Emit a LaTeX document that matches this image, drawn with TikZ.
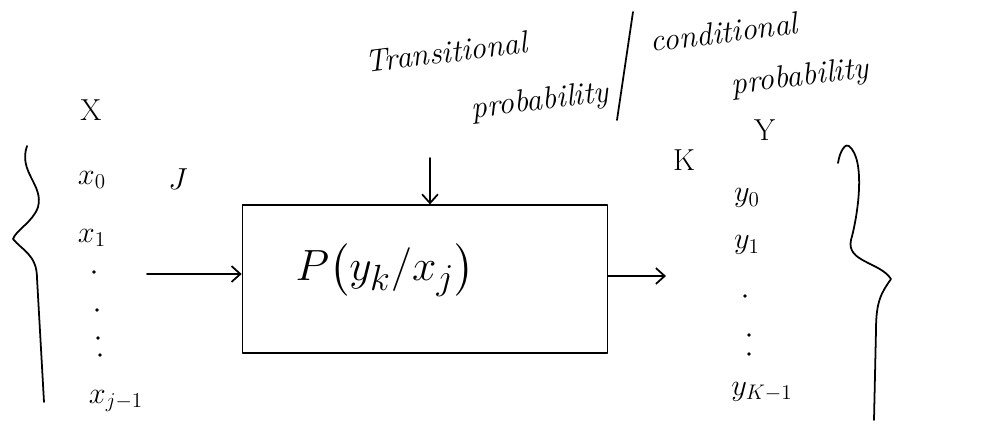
\documentclass[tikz,border=0pt]{standalone}
\usepackage{amsmath}
\usetikzlibrary{arrows.meta}
\begin{document}
\begin{tikzpicture}[x=0.02cm,y=-0.02cm,
  ink/.style={line width=1pt,line cap=round,line join=round},
  arr/.style={ink,-{Straight Barb[length=5pt,width=9pt]}},
  lbl/.style={inner sep=1pt,font=\fontsize{18}{20}\selectfont},
  note/.style={inner sep=0pt,font=\fontsize{18}{20}\selectfont\itshape,rotate=7},
  dotmark/.style={circle,fill=black,inner sep=0pt,minimum size=2.2pt}]
\useasboundingbox (0,0) rectangle (994,427);

% channel box
\node[ink,draw,minimum width=7.3cm,minimum height=2.95cm] (chan) at (425,279) {};
\node[lbl,font=\fontsize{28}{32}\selectfont] (ptext) at (385,270) {$P\bigl(y_k/x_j\bigr)$};

% input alphabet
\node[lbl] (X) at (91,110) {$\mathrm{X}$};
\node[lbl] (x0) at (92,180) {$x_0$};
\node[lbl] (J) at (178,179) {$J$};
\node[lbl] (x1) at (92,238) {$x_1$};
\node[dotmark] (xd1) at (94,272) {};
\node[dotmark] (xd2) at (97,310) {};
\node[dotmark] (xd3) at (98,338) {};
\node[dotmark] (xd4) at (100,355) {};
\node[lbl] (xJ) at (116,401) {$x_{j-1}$};

% output alphabet
\node[lbl] (K) at (684,160) {$\mathrm{K}$};
\node[lbl] (Y) at (765,130) {$\mathrm{Y}$};
\node[lbl] (y0) at (747,198) {$y_0$};
\node[lbl] (y1) at (747,245) {$y_1$};
\node[dotmark] (yd1) at (745,296) {};
\node[dotmark] (yd2) at (749,335) {};
\node[dotmark] (yd3) at (749,354) {};
\node[lbl] (yK) at (762,392) {$y_{K-1}$};

% braces
\draw[ink] (27,146) .. controls (18,172) and (44,185) .. (38,207)
  .. controls (33,222) and (16,230) .. (13,239)
  .. controls (22,250) and (37,255) .. (37,278) -- (44,402);
\draw[ink] (838,163) .. controls (840,150) and (846,143) .. (849,146)
  .. controls (866,160) and (858,215) .. (851,240)
  .. controls (846,262) and (880,262) .. (891,279)
  .. controls (882,292) and (876,300) .. (876,330) -- (874,420);

% connectors
\coordinate (xin) at (147,274);
\draw[arr] (xin) -- (xin -| chan.west);
\coordinate (yout) at (666,276);
\draw[arr] (yout -| chan.east) -- (yout);
\coordinate (ptop) at (430,158);
\draw[arr] (ptop) -- (ptop |- chan.north);

% notes above the box
\node[note] (trans) at (446,52) {Transitional};
\node[note] (tprob) at (540,102) {probability};
\node[note] (cond) at (724,32) {conditional};
\node[note] (cprob) at (800,78) {probability};
\coordinate (slashtop) at (633,12);
\coordinate (slashbot) at (617,120);
\draw[ink] (slashtop) -- (slashbot);
\end{tikzpicture}
\end{document}
